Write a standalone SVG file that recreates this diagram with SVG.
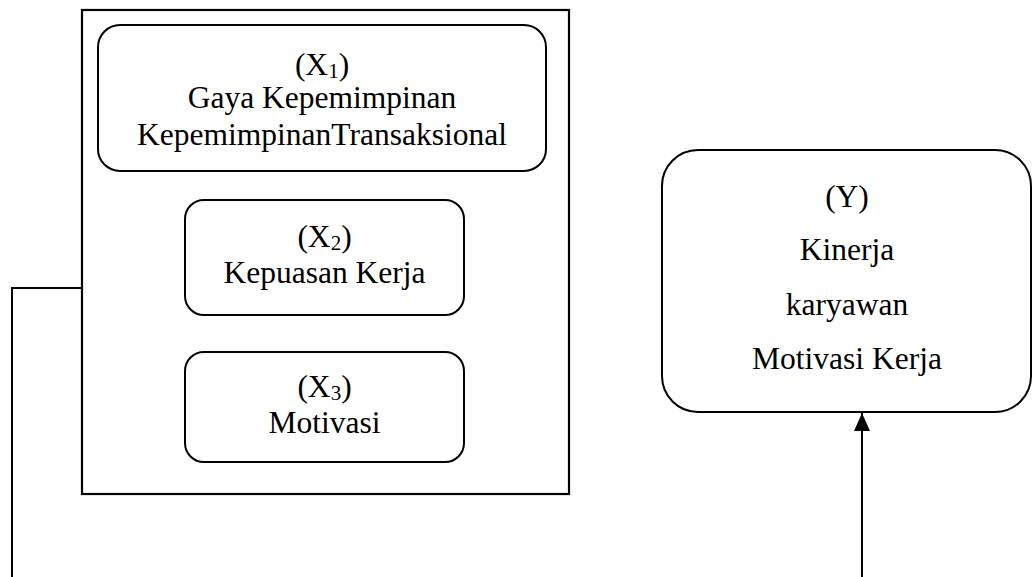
<svg xmlns="http://www.w3.org/2000/svg" width="1032" height="577" viewBox="0 0 1032 577">
<style>
.box{fill:#fff;stroke:#000;stroke-width:2}
.frame{fill:none;stroke:#000;stroke-width:2.2}
.ln{fill:none;stroke:#000;stroke-width:2}
text{font-family:"Liberation Serif","Times New Roman",serif;font-size:31.5px;fill:#000;text-anchor:middle}
.sub{font-size:21px}
</style>
<defs>
<marker id="ah" markerWidth="18" markerHeight="16" refX="18" refY="8" orient="auto" markerUnits="userSpaceOnUse" viewBox="0 0 18 16">
<path d="M0,0 L18,8 L0,16 Z" fill="#000"/>
</marker>
</defs>
<rect width="1032" height="577" fill="#fff"/>
<g id="group-x">
<rect class="frame" x="82" y="10" width="487" height="484"/>
</g>
<g id="x1">
<rect class="box" x="98" y="25" width="448" height="146" rx="22" ry="22"/>
<text x="322" y="75">(X<tspan class="sub" dy="3">1</tspan><tspan dy="-3">)</tspan></text>
<text x="322" y="108">Gaya Kepemimpinan</text>
<text x="322" y="145">KepemimpinanTransaksional</text>
</g>
<g id="x2">
<rect class="box" x="185" y="200" width="279" height="115" rx="19" ry="19"/>
<text x="324.5" y="247">(X<tspan class="sub" dy="3">2</tspan><tspan dy="-3">)</tspan></text>
<text x="324.5" y="283">Kepuasan Kerja</text>
</g>
<g id="x3">
<rect class="box" x="185" y="352" width="279" height="110" rx="19" ry="19"/>
<text x="324.5" y="397">(X<tspan class="sub" dy="3">3</tspan><tspan dy="-3">)</tspan></text>
<text x="324.5" y="433">Motivasi</text>
</g>
<g id="y">
<rect class="box" x="662" y="150" width="369" height="262" rx="36" ry="36"/>
<text x="847" y="207">(Y)</text>
<text x="847" y="260">Kinerja</text>
<text x="847" y="315">karyawan</text>
<text x="847" y="369">Motivasi Kerja</text>
</g>
<g id="connectors">
<path class="ln" d="M82,288 H12 V577"/>
<path class="ln" d="M862,577 V413" marker-end="url(#ah)"/>
</g>
</svg>
